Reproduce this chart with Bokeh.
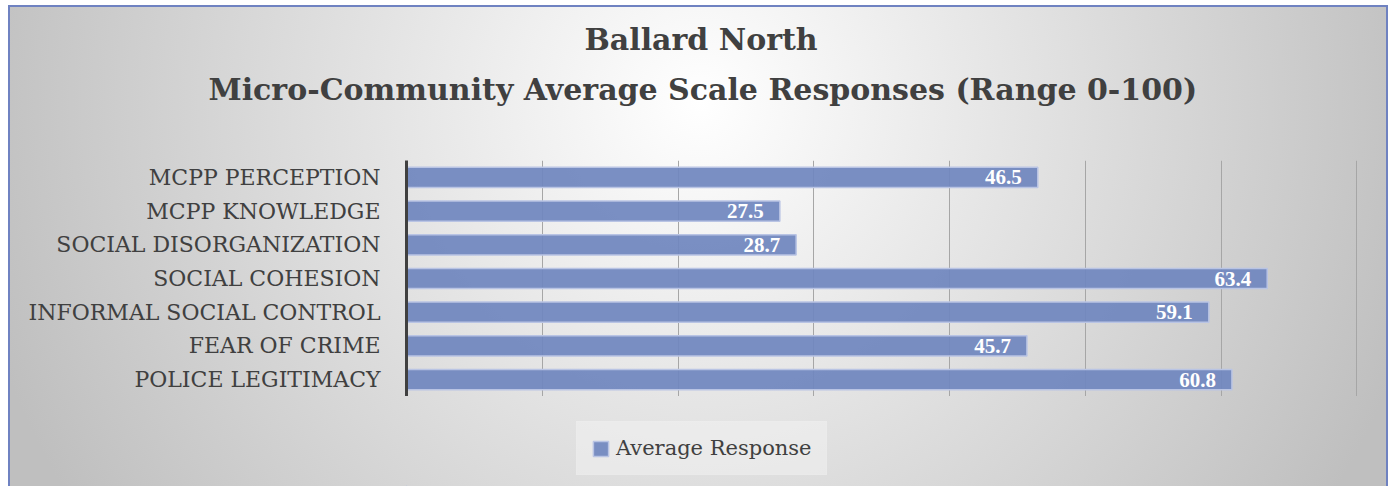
from bokeh.plotting import figure
from bokeh.layouts import column
from bokeh.models import ColumnDataSource, FactorRange, Range1d, FixedTicker, Legend, LegendItem, Title
from bokeh.core.properties import value
from bokeh.embed import file_html
from bokeh.resources import INLINE

# ---- data ----
categories = ["MCPP PERCEPTION", "MCPP KNOWLEDGE", "SOCIAL DISORGANIZATION", "SOCIAL COHESION",
              "INFORMAL SOCIAL CONTROL", "FEAR OF CRIME", "POLICE LEGITIMACY"]
average_response = [46.5, 27.5, 28.7, 63.4, 59.1, 45.7, 60.8]
value_labels = ["46.5", "27.5", "28.7", "63.4", "59.1", "45.7", "60.8"]
grid_ticks = [10, 20, 30, 40, 50, 60, 70]
series_name = "Average Response"
title_line1 = "Ballard North"
title_line2 = "Micro-Community Average Scale Responses (Range 0-100)"

TEXT = "#404040"
SERIF = "DejaVu Serif"
BAR_FILL = "#7086be"
BAR_LINE = "#b9c4e4"
BORDER = "#6f82c1"

src = ColumnDataSource(dict(category=categories, value=average_response, label=value_labels))

p = figure(width=1393, height=396,
           y_range=FactorRange(*categories[::-1]), x_range=Range1d(0, 70.05),
           output_backend="svg", toolbar_location=None,
           min_border_left=406, min_border_right=36, min_border_top=160, min_border_bottom=0,
           background_fill_color=None, border_fill_color=None, outline_line_color=None)

# axes
p.xaxis.visible = False
p.yaxis.axis_line_color = TEXT
p.yaxis.axis_line_width = 3
p.yaxis.major_tick_line_color = None
p.yaxis.minor_tick_line_color = None
p.yaxis.major_label_standoff = 20
p.yaxis.major_label_text_font = SERIF
p.yaxis.major_label_text_font_size = "22px"
p.yaxis.major_label_text_color = TEXT

p.ygrid.grid_line_color = None
p.xgrid.ticker = FixedTicker(ticks=grid_ticks)
p.xgrid.grid_line_color = "#a6a6a6"
p.xgrid.grid_line_width = 1

bar_style = dict(fill_color=BAR_FILL, fill_alpha=0.93, line_color=BAR_LINE, line_width=1.5)
bars = p.hbar(y="category", left=0, right="value", height=0.6, source=src, **bar_style)

p.text(x="value", y="category", text="label", source=src,
       text_align="right", text_baseline="middle", x_offset=-16,
       text_color="white", text_font=value("Liberation Serif"), text_font_style="bold",
       text_font_size="21px")

# titles: stacked outward from the frame (spacer, line 2, line 1)
spacer = Title(text=" ", text_font_size="10px", standoff=41)
p.add_layout(spacer, "above")
t2 = Title(text=title_line2, align="left", offset=-198, standoff=0,
           text_font=SERIF, text_font_style="bold", text_font_size="30px", text_color=TEXT)
p.add_layout(t2, "above")
t1 = Title(text=title_line1, align="left", offset=178, standoff=26,
           text_font=SERIF, text_font_style="bold", text_font_size="30px", text_color=TEXT)
p.add_layout(t1, "above")

# legend strip below the chart (its frame is aligned with the chart frame)
lf = figure(width=1393, height=90, x_range=Range1d(100, 101), y_range=Range1d(10, 11),
            x_axis_type=None, y_axis_type=None,
            output_backend="svg", toolbar_location=None, min_border=0,
            background_fill_color=None, border_fill_color=None, outline_line_color=None)
# same series, drawn off-range: only its legend swatch is visible
legend_glyph = lf.hbar(y=0.5, left=0, right="value", height=0.6, source=src, **bar_style)
legend = Legend(items=[LegendItem(label=series_name, renderers=[legend_glyph])],
                location=(170, 11), orientation="horizontal",
                background_fill_color="#f4f4f4", background_fill_alpha=0.5,
                border_line_color="#f0f0f0", border_line_alpha=0.3, border_line_width=1,
                padding=14, margin=0,
                label_text_font=SERIF, label_text_font_size="21px", label_text_color=TEXT,
                glyph_width=19, glyph_height=19, label_standoff=6)
lf.add_layout(legend, "center")

layout = column(p, lf, spacing=0)
layout.styles = {
    "background-color": "#ffffff",
    "background-image": (
        f"linear-gradient({BORDER},{BORDER}), linear-gradient({BORDER},{BORDER}), "
        f"linear-gradient({BORDER},{BORDER}), "
        "radial-gradient(circle 745px at 690px 95px, #ffffff 0%, #bfbfbf 100%)"
    ),
    "background-position": "8px 5px, 1386px 5px, 8px 5px, 10px 7px",
    "background-size": "2px 481px, 2px 481px, 1380px 2px, 1376px 479px",
    "background-repeat": "no-repeat, no-repeat, no-repeat, no-repeat",
}

open("out.html", "w").write(file_html(layout, INLINE))
